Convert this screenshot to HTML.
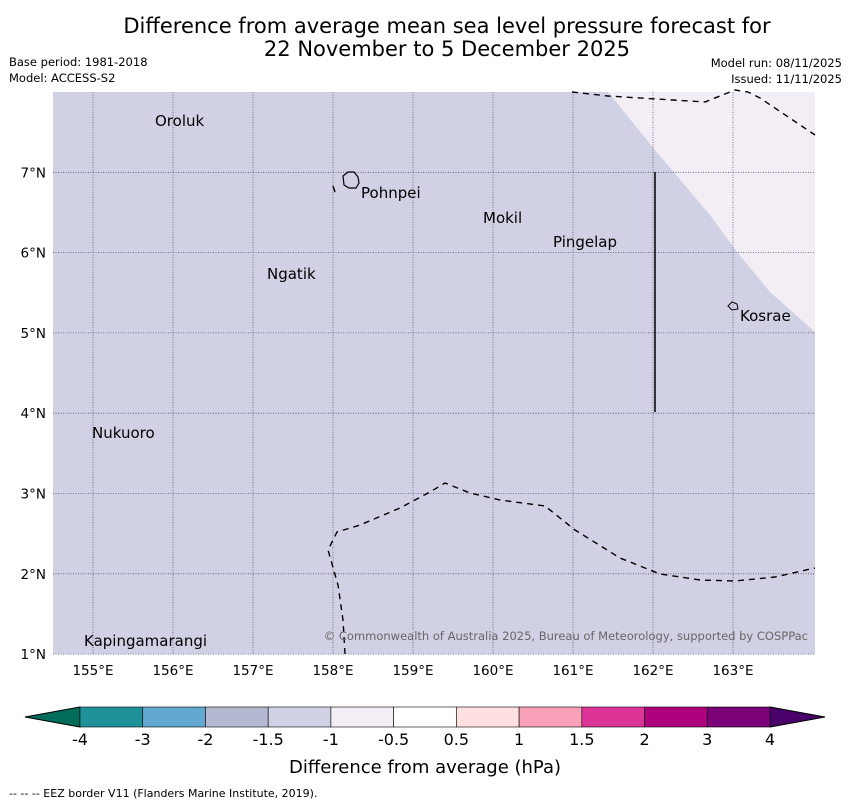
<!DOCTYPE html>
<html><head><meta charset="utf-8"><style>
body{margin:0;background:#fff;font-family:"DejaVu Sans","Liberation Sans",sans-serif;}
svg text{font-family:"DejaVu Sans","Liberation Sans",sans-serif;}
</style></head><body>
<svg width="850" height="804" viewBox="0 0 850 804" xmlns="http://www.w3.org/2000/svg">
<text x="447" y="33" font-size="21" text-anchor="middle">Difference from average mean sea level pressure forecast for</text>
<text x="447" y="56" font-size="21" text-anchor="middle">22 November to 5 December 2025</text>
<text x="9" y="66" font-size="11.5">Base period: 1981-2018</text>
<text x="9" y="82" font-size="11.5">Model: ACCESS-S2</text>
<text x="842" y="67" font-size="11.5" text-anchor="end">Model run: 08/11/2025</text>
<text x="842" y="83" font-size="11.5" text-anchor="end">Issued: 11/11/2025</text>
<g id="map">
<rect x="53" y="92" width="762" height="562" fill="#d1d1e5"/>
<polygon points="608,92 655,150 710,215 737,252 770,292 815,332 815,92" fill="#f3eef5"/>
<g id="grid" stroke="#555577" stroke-width="0.8" stroke-dasharray="1,1.5"></g>
<g id="ticks" font-size="13.5"></g>
<polyline points="572,92 608,96 705,102 735,90 748,92 760,98 815,135" fill="none" stroke="#000" stroke-width="1.4" stroke-dasharray="6,5"/>
<polyline points="345,654 343,620 338,585 328,550 337,532 360,525 400,508 430,492 445,483 470,493 500,500 545,506 575,530 620,558 660,574 700,580 735,581 775,577 815,568" fill="none" stroke="#000" stroke-width="1.4" stroke-dasharray="6,5"/>
<line x1="333" y1="186" x2="335" y2="192" stroke="#000" stroke-width="1.4"/>
<line x1="655" y1="172" x2="655" y2="412" stroke="#222" stroke-width="1.8"/>
<path d="M343,176 l5,-4 l6,0 l4,5 l1,6 l-3,5 l-7,0 l-5,-3 z" fill="none" stroke="#000" stroke-width="1.2"/>
<path d="M728,306 l4,-4 l5,2 l1,5 l-6,1 z" fill="none" stroke="#000" stroke-width="1"/>
<g font-size="15" fill="#000">
<text x="155" y="126">Oroluk</text>
<text x="361" y="198">Pohnpei</text>
<text x="483" y="223">Mokil</text>
<text x="553" y="247">Pingelap</text>
<text x="267" y="279">Ngatik</text>
<text x="740" y="321">Kosrae</text>
<text x="92" y="438">Nukuoro</text>
<text x="84" y="646">Kapingamarangi</text>
</g>
<text x="808" y="640" font-size="11.5" fill="#666" text-anchor="end">© Commonwealth of Australia 2025, Bureau of Meteorology, supported by COSPPac</text>
</g>
<g id="cbar"></g>
<text x="425" y="773" font-size="18" text-anchor="middle">Difference from average (hPa)</text>
<text x="9" y="797" font-size="11">--  --  -- EEZ border V11 (Flanders Marine Institute, 2019).</text>
</svg>
<script>
const lonTicks=[155,156,157,158,159,160,161,162,163];
const latTicks=[1,2,3,4,5,6,7];
const cbarLabels=["-4","-3","-2","-1.5","-1","-0.5","0.5","1","1.5","2","3","4"];
const cbarColors=["#1f9199","#62a9d2","#b4b9d1","#d1d1e5","#f3eef5","#ffffff","#fee0e0","#f8a1b8","#dd3497","#ae017e","#7a0177"];
const extLow="#006d5b", extHigh="#49006a";
const NS="http://www.w3.org/2000/svg";
const xOf=lon=>53+(lon-154.5)*80;
const yOf=lat=>92+(8-lat)*80.3;
function mk(t,a,p){const e=document.createElementNS(NS,t);for(const k in a)e.setAttribute(k,a[k]);p.appendChild(e);return e;}
const grid=document.getElementById('grid'),ticks=document.getElementById('ticks');
lonTicks.forEach(l=>{const x=xOf(l);
 const g=mk('line',{x1:x,x2:x,y1:92,y2:654},grid);
 
 
 const t=mk('text',{x:x,y:675,'text-anchor':'middle'},ticks);t.textContent=l+'°E';
 
 });
latTicks.forEach(l=>{const y=yOf(l);
 const g=mk('line',{x1:53,x2:815,y1:y,y2:y},grid);
 
 
 const t=mk('text',{x:46,y:y+5,'text-anchor':'end'},ticks);t.textContent=l+'°N';
 
 });
const cb=document.getElementById('cbar');const x0=80,x1=770,y0=707,h=20;const w=(x1-x0)/cbarColors.length;
const lo=mk('polygon',{points:`${x0},${y0} ${x0},${y0+h} 25,${y0+h/2}`,fill:extLow,stroke:'#000','stroke-width':1},cb);


const hi=mk('polygon',{points:`${x1},${y0} ${x1},${y0+h} 825,${y0+h/2}`,fill:extHigh,stroke:'#000','stroke-width':1},cb);


cbarColors.forEach((c,i)=>{const r=mk('rect',{x:x0+i*w,y:y0,width:w,height:h,fill:c,stroke:'#000','stroke-width':0.6},cb);
 
 });
cbarLabels.forEach((s,i)=>{const t=mk('text',{x:x0+i*w,y:745,'text-anchor':'middle','font-size':16},cb);t.textContent=s;
 
 });
</script>
</body></html>
